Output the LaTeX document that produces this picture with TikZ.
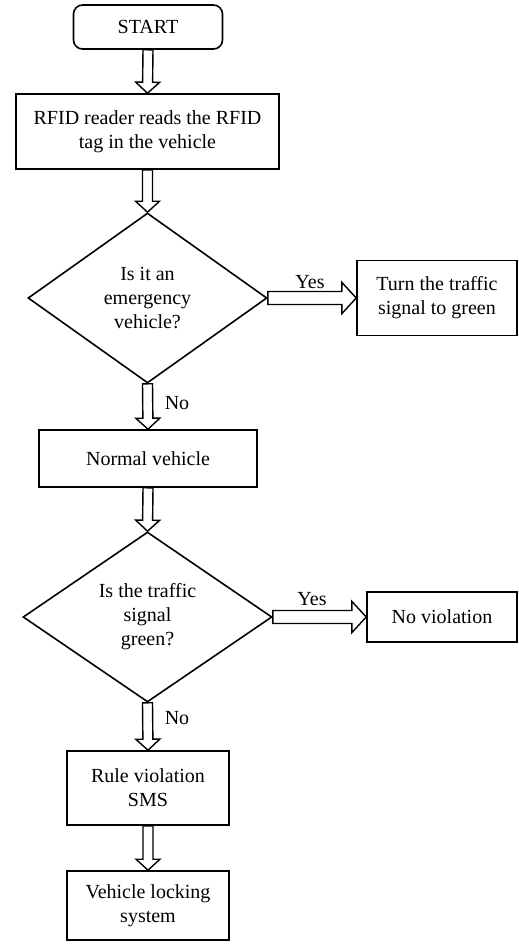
\documentclass[tikz,border=0pt]{standalone}
\usepackage{fontspec}
\setmainfont{Liberation Serif}
\usetikzlibrary{shapes.geometric,calc}

\tikzset{
  box/.style={draw, line width=1.6pt, inner sep=2pt, align=center,
    font=\fontsize{20pt}{24pt}\selectfont},
  startbox/.style={box, rounded corners=9pt},
  decision/.style={box, diamond, aspect=1.4, inner sep=0pt},
  label/.style={font=\fontsize{20pt}{24pt}\selectfont, inner sep=1pt},
  hollow/.style={draw, line width=1.4pt, fill=white, line join=miter}
}

% hollow block arrow from #2 to #3, #1 = half width of the shaft
\newcommand{\blockarrow}[3][5pt]{%
  \coordinate (ba-h) at ($(#3)!{2.2*#1}!(#2)$);
  \draw[hollow] ($(#2)!#1!90:(#3)$) -- ($(ba-h)!#1!90:(#3)$)
    -- ($(ba-h)!{2.4*#1}!90:(#3)$) -- (#3)
    -- ($(ba-h)!{2.4*#1}!-90:(#3)$) -- ($(ba-h)!#1!-90:(#3)$)
    -- ($(#2)!#1!-90:(#3)$) -- cycle;
}

\begin{document}
\begin{tikzpicture}[x=1pt, y=1pt]
  \useasboundingbox (0,0) rectangle (519,-946);

  \node[startbox, minimum width=149pt, minimum height=44pt] (start) at (148,-27) {START};
  \node[box, minimum width=263pt, minimum height=75pt] (rfid) at (147.5,-131.5)
    {RFID reader reads the RFID\\tag in the vehicle};
  \node[decision, minimum width=239pt, minimum height=170pt] (emerg) at (147.5,-298)
    {Is it an\\emergency\\vehicle?};
  \node[box, minimum width=160pt, minimum height=75pt] (turn) at (437,-298)
    {Turn the traffic\\signal to green};
  \node[box, minimum width=218pt, minimum height=57pt] (normal) at (148,-458.5)
    {Normal vehicle};
  \node[decision, minimum width=249pt, minimum height=170pt] (signal) at (147.5,-617)
    {Is the traffic\\signal\\green?};
  \node[box, minimum width=150pt, minimum height=50pt] (noviol) at (442,-617)
    {No violation};
  \node[box, minimum width=162pt, minimum height=74pt] (rule) at (148,-788)
    {Rule violation\\SMS};
  \node[box, minimum width=162pt, minimum height=69pt] (lock) at (148,-905.5)
    {Vehicle locking\\system};

  \blockarrow{start.south}{rfid.north}
  \blockarrow{rfid.south}{emerg.north}
  \blockarrow[6.5pt]{emerg.east}{turn.west}
  \blockarrow{emerg.south}{normal.north}
  \blockarrow{normal.south}{signal.north}
  \blockarrow[6.5pt]{signal.east}{noviol.west}
  \blockarrow{signal.south}{rule.north}
  \blockarrow{rule.south}{lock.north}

  \node[label] (yes1) at (310,-282) {Yes};
  \node[label] (no1) at (177,-403) {No};
  \node[label] (yes2) at (312,-599) {Yes};
  \node[label] (no2) at (177,-718) {No};
\end{tikzpicture}
\end{document}
